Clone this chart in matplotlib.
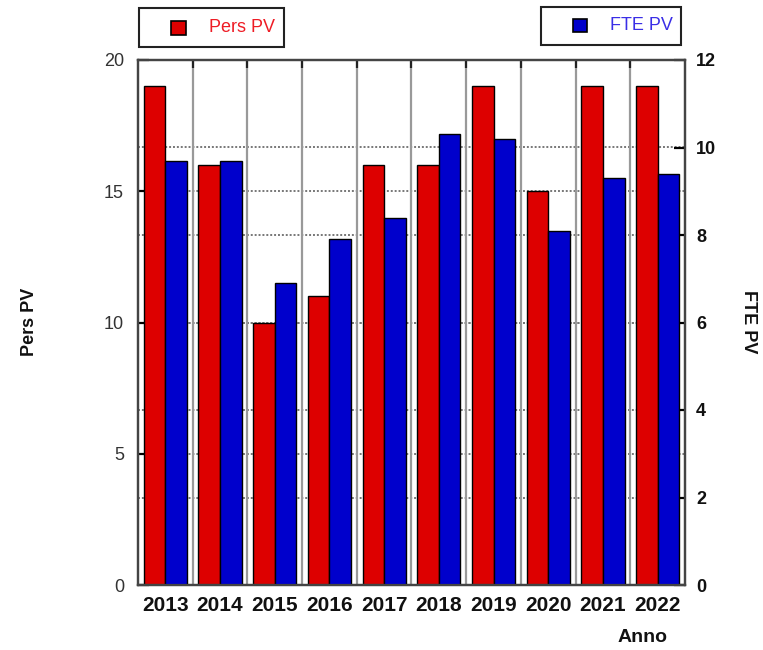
import matplotlib
matplotlib.use("Agg")
import matplotlib.pyplot as plt
from matplotlib.patches import Rectangle
import numpy as np

plt.rcParams['font.family'] = ['Liberation Sans', 'DejaVu Sans']

years = ["2013", "2014", "2015", "2016", "2017", "2018", "2019", "2020", "2021", "2022"]
pers_pv = [19, 16, 10, 11, 16, 16, 19, 15, 19, 19]
fte_pv = [9.7, 9.7, 6.9, 7.9, 8.4, 10.3, 10.2, 8.1, 9.3, 9.4]
left_ticks = [0, 5, 10, 15, 20]
right_ticks = [0, 2, 4, 6, 8, 10, 12]

W, H = 763, 650
fig = plt.figure(figsize=(W / 100, H / 100), dpi=100)
L, R, T, B = 138, 685, 60, 585
ax = fig.add_axes([L / W, 1 - B / H, (R - L) / W, (B - T) / H])
ax2 = ax.twinx()

x = np.arange(len(years))
bw = 0.395
red = "#dd0000"
blue = "#0000cc"

ax.set_xlim(-0.5, len(years) - 0.5)
ax.set_ylim(0, 20)
ax2.set_ylim(0, 12)

# horizontal dotted grid lines (both axes' ticks)
for v in left_ticks[1:-1]:
    ax.axhline(v, color="#777777", lw=1.4, ls=(0, (1, 1)), zorder=0)
for v in right_ticks[1:-1]:
    ax.axhline(v * 20 / 12, color="#777777", lw=1.4, ls=(0, (1, 1)), zorder=0)
# vertical separators
for b in np.arange(0.5, len(years) - 1, 1.0):
    ax.axvline(b, color="#999999", lw=1.6, zorder=0.5)

ax.bar(x - bw / 2, pers_pv, width=bw, color=red, edgecolor="black", lw=1.0, zorder=2)
ax2.bar(x + bw / 2, fte_pv, width=bw, color=blue, edgecolor="black", lw=1.0, zorder=2)

for a in (ax, ax2):
    for s in a.spines.values():
        s.set_color("#444444")
        s.set_linewidth(1.6)

ax.set_xticks(x)
ax.set_xticklabels(years, fontsize=15, fontweight="bold", color="#111111")
ax.tick_params(axis="x", which="major", length=0, pad=8)
ax.set_xticks(np.arange(0.5, len(years) - 1, 1.0), minor=True)
ax.tick_params(axis="x", which="minor", direction="in", top=True, bottom=False,
               length=6, width=1.6, color="#222222")

ax.set_yticks(left_ticks)
ax.set_yticklabels([str(v) for v in left_ticks], fontsize=13, color="#333333")
ax.tick_params(axis="y", direction="in", length=8, width=1.6, color="black", pad=10)

ax2.set_yticks(right_ticks)
ax2.set_yticklabels([str(v) for v in right_ticks], fontsize=13, fontweight="bold", color="#111111")
ax2.tick_params(axis="y", direction="in", length=8, width=1.6, color="black", pad=8)

# axis labels
fig.text(30 / W, 1 - 322 / H, "Pers PV", rotation=90, ha="center", va="center",
         fontsize=13, fontweight="bold", color="#111111")
fig.text(749 / W, 1 - 322 / H, "FTE PV", rotation=270, ha="center", va="center",
         fontsize=13, fontweight="bold", color="#111111")
fig.text(643 / W, 1 - 638 / H, "Anno", ha="center", va="center",
         fontsize=14, fontweight="bold", color="#111111")

def fig_rect(x0, y0, x1, y1, **kw):
    fig.patches.append(Rectangle((x0 / W, 1 - y1 / H), (x1 - x0) / W, (y1 - y0) / H,
                                 transform=fig.transFigure, figure=fig, **kw))

# legend boxes
fig_rect(139, 8, 284, 47, facecolor="white", edgecolor="#222222", lw=1.5)
fig_rect(171, 21, 186, 35, facecolor=red, edgecolor="black", lw=1.2)
fig.text(209 / W, 1 - 28 / H, "Pers PV", ha="left", va="center", fontsize=13, color="#ee1c25")

fig_rect(541, 7, 681, 45, facecolor="white", edgecolor="#222222", lw=1.5)
fig_rect(573, 19, 587, 32, facecolor=blue, edgecolor="black", lw=1.2)
fig.text(610 / W, 1 - 26 / H, "FTE PV", ha="left", va="center", fontsize=13, color="#3a2ee6")

fig.savefig("out.png", dpi=100)
